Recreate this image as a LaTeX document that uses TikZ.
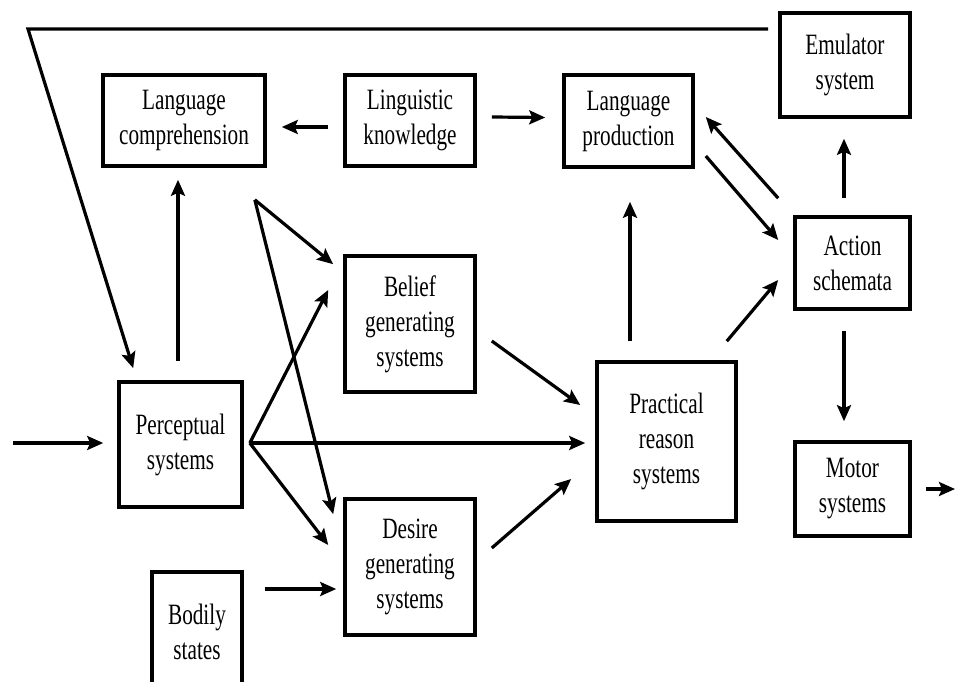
\documentclass[tikz,border=0pt]{standalone}
\usepackage{fontspec}
\setmainfont[FakeStretch=0.72]{Liberation Serif}
\usetikzlibrary{arrows.meta,calc}
\begin{document}
\begin{tikzpicture}[x=1pt,y=-1pt,
  box/.style={draw,line width=3.6pt,rectangle,inner sep=0pt,align=center,
    font=\fontsize{29.5}{35}\selectfont},
  arr/.style={line width=3.2pt,-{Stealth[length=16pt,width=14pt,inset=3pt]}}]
\useasboundingbox (0,0) rectangle (956,682);

% boxes
\node[box,minimum width=162pt,minimum height=91pt]  (lc) at (184,120.5) {Language\\comprehension};
\node[box,minimum width=130pt,minimum height=91pt]  (lk) at (410,120.5) {Linguistic\\knowledge};
\node[box,minimum width=129pt,minimum height=92pt]  (lp) at (628.5,121) {Language\\production};
\node[box,minimum width=130pt,minimum height=104pt] (em) at (845,65) {Emulator\\system};
\node[box,minimum width=115pt,minimum height=92pt]  (as) at (852.5,263) {Action\\schemata};
\node[box,minimum width=115pt,minimum height=94pt]  (ms) at (852.5,489) {Motor\\systems};
\node[box,minimum width=139pt,minimum height=159pt] (pr) at (666.5,441.5) {Practical\\reason\\systems};
\node[box,minimum width=123pt,minimum height=125pt] (ps) at (180.5,444.5) {Perceptual\\systems};
\node[box,minimum width=130pt,minimum height=136pt] (bg) at (410,324) {Belief\\generating\\systems};
\node[box,minimum width=130pt,minimum height=136pt] (dg) at (410,567) {Desire\\generating\\systems};
\node[box,minimum width=90pt,minimum height=120pt]  (bs) at (197,632) {Bodily\\states};

% free ends
\coordinate (in) at (13,443);
\coordinate (out) at (955,489);
\coordinate (corner) at (28,29);

% connectors
\draw[arr] ($(lk.west)+(-15,6.5)$) -- ($(lc.east)+(15,6.5)$);
\draw[arr] ($(lk.east)+(15,-3.5)$) -- ($(lp.west)+(-17,-3.5)$);
\draw[arr] ($(as.north west)+(-15,-17)$) -- ($(lp.east)+(11,-4)$);
\draw[arr] ($(lp.east)+(11,35)$) -- ($(as.west)+(-15,-23)$);
\draw[arr] ($(as.north)+(-8.5,-17)$) -- ($(em.south)+(-1,20)$);
\draw[arr] ($(as.south)+(-8.5,20)$) -- ($(ms.north)+(-8.5,-19)$);
\draw[arr] ($(ms.east)+(14,0)$) -- (out);
\draw[arr] ($(pr.north)+(-36.5,-19)$) -- ($(lp.south)+(1.5,33)$);
\draw[arr] ($(pr.north east)+(-11,-19)$) -- ($(as.west)+(-15,17)$);
\draw[arr] ($(bg.east)+(15,17)$) -- ($(pr.west)+(-15,-36.5)$);
\draw[arr] ($(ps.east)+(6,-1.5)$) -- ($(pr.west)+(-10,1.5)$);
\draw[arr] ($(dg.east)+(15,-19)$) -- ($(pr.west)+(-24,37.5)$);
\draw[arr] ($(ps.east)+(6,-1.5)$) -- ($(bg.west)+(-15,-34)$);
\draw[arr] ($(ps.east)+(6,-1.5)$) -- ($(dg.west)+(-15,-22)$);
\draw[arr] ($(lc.south east)+(-12,32)$) -- ($(bg.north west)+(-10,10)$);
\draw[arr] ($(lc.south east)+(-12,32)$) -- ($(dg.north west)+(-10,17)$);
\draw[arr] ($(ps.north)+(-2.5,-19)$) -- ($(lc.south)+(-6,12)$);
\draw[arr] (in) -- ($(ps.west)+(-14,-1.5)$);
\draw[arr] ($(bs.east)+(21,-43)$) -- ($(dg.west)+(-7,22)$);
\draw[arr,line join=miter] ($(em.west)+(-10,-36)$) -- (corner) -- ($(ps.north west)+(16,-12)$);
\end{tikzpicture}
\end{document}
